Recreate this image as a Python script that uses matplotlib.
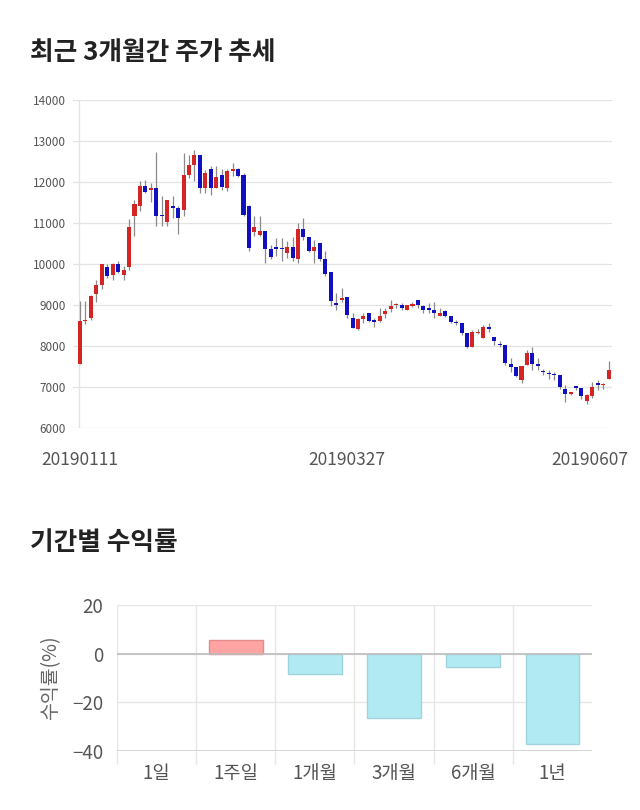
import matplotlib
matplotlib.use('Agg')
import matplotlib.pyplot as plt
import matplotlib.transforms as mtrans

plt.rcParams['font.family'] = ['Noto Sans CJK KR', 'DejaVu Sans']

# 일봉 데이터 (시가, 고가, 저가, 종가)
opens = [7570, 8600, 8680, 9270, 9480, 9930, 9740, 10010, 9740, 9920,
         11160, 11410, 11910, 11810, 11850, 11180, 11020, 11420, 11370, 11310,
         12160, 12410, 12670, 11850, 12320, 11850, 12180, 11850, 12260, 12320,
         12180, 11420, 10770, 10710, 10810, 10370, 10420, 10370, 10270, 10420,
         10120, 10860, 10660, 10310, 10510, 10120, 9810, 9050, 9120, 9200,
         8680, 8410, 8650, 8800, 8610, 8620, 8770, 8900, 8990, 9000,
         8890, 8980, 9120, 8980, 8890, 8880, 8730, 8850, 8720, 8590,
         8550, 8310, 7980, 8310, 8190, 8460, 8210, 8030, 8020, 7560,
         7480, 7180, 7530, 7840, 7570, 7370, 7350, 7300, 7290, 6960,
         6840, 6990, 6980, 6660, 6770, 7100, 7050, 7200]
highs = [9090, 9090, 9250, 9620, 10000, 9990, 10030, 10070, 9940, 11100,
         11570, 12020, 12060, 11980, 12720, 11650, 11570, 11670, 11410, 12710,
         12670, 12790, 12670, 12300, 12400, 12380, 12320, 12320, 12460, 12340,
         12220, 11450, 11160, 11160, 10810, 10470, 10630, 10630, 10550, 10660,
         11000, 11120, 10660, 10590, 10510, 10310, 9810, 9290, 9410, 9200,
         8800, 8680, 8810, 8800, 8680, 8920, 8920, 9120, 9060, 9060,
         9000, 9080, 9120, 9000, 9060, 9080, 8920, 8880, 8720, 8630,
         8550, 8310, 8390, 8410, 8510, 8550, 8230, 8130, 8020, 7700,
         7480, 7500, 7900, 7970, 7700, 7450, 7410, 7370, 7290, 7040,
         6880, 7000, 6980, 6840, 7120, 7160, 7100, 7640]
lows = [7560, 8530, 8640, 9070, 9380, 9660, 9620, 9780, 9620, 9850,
        10680, 11290, 11720, 11500, 10920, 10920, 10920, 11120, 10720, 11160,
        12100, 12020, 11720, 11720, 11690, 11850, 11810, 11770, 12140, 12120,
        11160, 10310, 10680, 10680, 10020, 10110, 10190, 10080, 10150, 10070,
        10020, 10590, 10290, 10020, 10080, 9700, 8970, 8880, 9080, 8680,
        8430, 8390, 8570, 8590, 8470, 8590, 8680, 8840, 8920, 8880,
        8880, 8960, 8920, 8800, 8800, 8680, 8720, 8710, 8550, 8510,
        8270, 7940, 7980, 8290, 8190, 8350, 8020, 7970, 7540, 7370,
        7240, 7090, 7530, 7410, 7410, 7290, 7200, 7160, 6960, 6630,
        6800, 6930, 6710, 6590, 6740, 6930, 6960, 7200]
closes = [8600, 8620, 9210, 9480, 10000, 9700, 10000, 9800, 9850, 10900,
          11460, 11910, 11760, 11850, 11160, 11160, 11570, 11360, 11110, 12160,
          12410, 12670, 11850, 12220, 11850, 12120, 11890, 12260, 12320, 12150,
          11200, 10400, 10900, 10810, 10370, 10170, 10370, 10360, 10410, 10150,
          10860, 10660, 10310, 10420, 10110, 9750, 9100, 9000, 9180, 8750,
          8430, 8650, 8720, 8620, 8590, 8730, 8850, 8980, 9000, 8920,
          9000, 9020, 9000, 8880, 8880, 8800, 8810, 8720, 8580, 8550,
          8310, 7980, 8350, 8350, 8460, 8410, 8110, 8020, 7580, 7480,
          7270, 7500, 7840, 7560, 7520, 7360, 7310, 7290, 7000, 6840,
          6880, 6980, 6770, 6800, 7000, 7040, 7080, 7410]
date_ticks = {0: '20190111', 49: '20190327', 97: '20190607'}

# 기간별 수익률
periods = ['1일', '1주일', '1개월', '3개월', '6개월', '1년']
returns = [0.0, 5.5, -8.2, -26.4, -5.6, -37.1]

fig = plt.figure(figsize=(6.4, 8.1), dpi=100)

fig.text(30 / 640, 1 - 52 / 810, '최근 3개월간 주가 추세', fontsize=18.5,
         fontweight='bold', va='center', ha='left', color='#222222')
fig.text(30 / 640, 1 - 543 / 810, '기간별 수익률', fontsize=18.5,
         fontweight='bold', va='center', ha='left', color='#222222')

# 캔들 차트
ax = fig.add_axes([73 / 640, 1 - 428 / 810, 539 / 640, 328 / 810])
RED = '#d42525'
BLUE = '#1010c0'
for i in range(len(opens)):
    o, h, l, c = opens[i], highs[i], lows[i], closes[i]
    ax.vlines(i, l, h, color='#8a8a8a', lw=0.9, zorder=2)
    col = RED if c >= o else BLUE
    bottom = min(o, c)
    height = max(abs(c - o), 35)
    ax.bar(i, height, bottom=bottom, width=0.74, color=col, zorder=3,
           linewidth=0)

ax.set_xlim(-1.28, 97.6)
ax.set_ylim(6000, 14000)
ax.set_yticks(range(6000, 14001, 1000))
ax.grid(axis='y', color='#e3e3e3', lw=0.9)
ax.set_axisbelow(True)
for s in ax.spines.values():
    s.set_visible(False)
ax.axvline(-0.2, color='#e3e3e3', lw=0.9, zorder=1)
ax.tick_params(axis='y', length=0, labelsize=8.5, labelcolor='#555555', pad=5)
ax.set_xticks([])
for k, lab in date_ticks.items():
    off = -19 if k == 97 else 0
    tr = mtrans.offset_copy(ax.get_xaxis_transform(), fig=fig, x=off, y=0,
                            units='dots')
    ax.text(k, -0.097, lab, transform=tr, ha='center', va='center',
            fontsize=12.5, color='#555555')

# 수익률 막대 차트
bx = fig.add_axes([117 / 640, 1 - 751 / 810, 475 / 640, 146 / 810])
pos = list(range(len(periods)))
cols = ['#ffa3a3' if v > 0 else '#b2eaf3' for v in returns]
edges = ['#e48c8c' if v > 0 else '#9fd4de' for v in returns]
widths = [1 if v != 0 else 0 for v in returns]
bx.bar(pos, returns, width=0.68, color=cols, edgecolor=edges, lw=widths,
       zorder=3)
bx.set_xlim(-0.5, 5.5)
bx.set_ylim(-40, 20)
bx.set_yticks([-40, -20, 0, 20])
bx.set_xticks(pos)
bx.set_xticklabels(periods)
bx.set_xticks([p + 0.5 for p in range(-1, 5)], minor=True)
bx.grid(axis='y', color='#e6e6e6', lw=1)
bx.grid(axis='x', which='minor', color='#e6e6e6', lw=1)
bx.set_axisbelow(True)
bx.axhline(0, color='#bdbdbd', lw=1.2, zorder=4)
for s in bx.spines.values():
    s.set_visible(False)
bx.axhline(-40, color='#cfcfcf', lw=1.2, zorder=2)
bx.tick_params(axis='x', which='major', length=0, labelsize=13.5,
               labelcolor='#555555', pad=9)
bx.tick_params(axis='x', which='minor', length=9, color='#e6e6e6', width=1)
bx.tick_params(axis='y', length=0, labelsize=13.5, labelcolor='#555555', pad=10)
bx.set_ylabel('수익률(%)', fontsize=14, color='#666666', labelpad=8)

fig.savefig('out.png', dpi=100)
